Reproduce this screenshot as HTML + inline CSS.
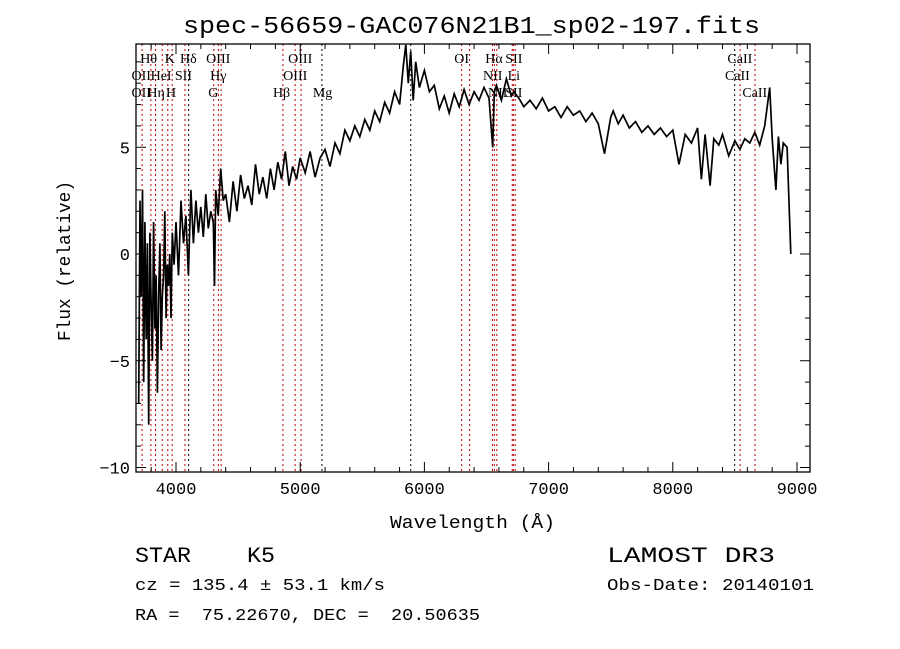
<!DOCTYPE html>
<html><head><meta charset="utf-8"><style>
body{margin:0;background:#fff;width:900px;height:649px;overflow:hidden}
svg{display:block}
text{font-family:"Liberation Serif",serif;fill:#000;white-space:pre}
.m{font-family:"Liberation Mono",monospace}
</style></head><body>
<svg id="c" width="900" height="649"></svg>
<script>
const wave=[3700,3710,3720,3730,3740,3750,3760,3770,3780,3790,3800,3810,3820,3830,3840,3850,3860,3870,3880,3890,3900,3910,3920,3930,3940,3950,3960,3970,3985,4000,4020,4040,4060,4080,4100,4120,4140,4160,4180,4200,4220,4240,4260,4280,4300,4310,4320,4340,4360,4380,4400,4430,4460,4490,4520,4550,4580,4610,4640,4670,4700,4730,4760,4790,4820,4850,4880,4910,4940,4970,5000,5040,5080,5120,5160,5200,5240,5280,5320,5360,5400,5440,5480,5520,5560,5600,5640,5680,5720,5760,5800,5830,5850,5870,5890,5910,5930,5960,6000,6040,6080,6120,6160,6200,6240,6280,6320,6360,6400,6440,6480,6520,6550,6563,6580,6620,6660,6700,6720,6760,6800,6850,6900,6950,7000,7050,7100,7150,7200,7250,7300,7350,7400,7450,7500,7520,7560,7600,7650,7700,7750,7800,7850,7900,7950,8000,8050,8100,8150,8200,8230,8260,8300,8330,8370,8400,8450,8500,8540,8580,8620,8660,8700,8740,8780,8800,8830,8850,8870,8890,8920,8950,8980,9000,9005,9010];
const flux=[-7,2.5,-2,3,-6,1.5,-4,0.5,-8,1,-2.5,-5,1.5,-3.5,-1,-6.5,-2,0.5,-4.5,-2,-1,2,-3,-0.5,-1.5,0,-3,1,-0.5,1.5,-1,2.5,0.5,1.8,-1,3,0.5,2.5,1,2.2,0.8,2.8,1.2,2,1.5,-1.5,3,1.8,4,2.5,2.8,1.5,3.4,2,3.7,2.6,3.2,2.3,4.2,2.8,3.6,2.6,4,3,4.3,3.5,4.8,3.2,4.1,3.5,4.5,3.8,4.8,3.6,4.5,4.9,4.1,5.2,4.7,5.8,5.3,6,5.5,6.3,5.8,6.7,6.2,7.1,6.6,7.6,7,8.8,9.8,8,9.5,7.2,9,7.8,8.6,7.6,7.9,6.8,7.4,6.6,7.5,6.9,7.7,7,7.6,7.2,7.8,7.3,5,7.6,7.9,7.2,8.2,7.4,7.6,7.3,6.9,7.2,6.8,7.3,6.7,6.9,6.4,6.9,6.5,6.7,6.2,6.6,6.1,4.7,6.4,6.7,6.1,6.5,5.9,6.2,5.7,6,5.6,5.9,5.5,5.8,4.2,5.6,5.2,5.9,3.5,5.6,3.2,5.4,5.1,5.6,4.6,5.3,4.9,5.4,5.2,5.7,5.1,6,7.8,5.4,3,5.5,4.2,5.2,5,0];
const lineW=[3727,3798,3835,3889,3934,3969,4072,4102,4304,4341,4363,4861,4959,5007,5175,5890,6300,6364,6548,6563,6583,6707,6716,6731,8498,8542,8662];
const lineBlack=[0,0,0,0,0,0,0,1,0,0,0,0,0,0,1,1,0,0,0,0,0,0,0,0,1,0,0];
const labels=[["Hθ",3780,58],["K",3950,58],["Hδ",4100,58],["OIII",4340,58],["OIII",5000,58],["OI",6300,58],["Hα",6560,58],["SII",6720,58],["CaII",8540,58],
["OII",3720,75],["HeI",3880,75],["SII",4060,75],["Hγ",4340,75],["OIII",4960,75],["NII",6550,75],["Li",6720,75],["CaII",8520,75],
["OII",3720,92],["Hη",3840,92],["H",3960,92],["G",4300,92],["Hβ",4850,92],["Mg",5180,92],["NII",6590,92],["SII",6720,92],["CaII",8660,92]];
const xt=[4000,5000,6000,7000,8000,9000], yt=[5,0,-5,-10];
const L=136,R=810,T=44,B=472;
const X=w=>176+(w-4000)*0.1242, Y=f=>254-f*21.35;
const S=document.getElementById('c'),NS='http://www.w3.org/2000/svg';
function mk(t,a,p){const e=document.createElementNS(NS,t);for(const k in a)e.setAttribute(k,a[k]);(p||S).appendChild(e);return e;}
const lg=mk('g',{});
lineW.forEach((w,i)=>{const l=mk('line',{x1:X(w),x2:X(w),y1:T,y2:B,stroke:lineBlack[i]?'#000':'#c00000','stroke-width':1,'stroke-dasharray':'2,3'},lg);
});
const tg=mk('g',{});
labels.forEach(a=>{const t=mk('text',{x:X(a[1]),y:a[2]+5,'font-size':14,'text-anchor':'middle'},tg);t.textContent=a[0];
});
const pl=mk('polyline',{points:wave.map((w,i)=>X(w).toFixed(1)+','+Y(flux[i]).toFixed(1)).join(' '),fill:'none',stroke:'#000','stroke-width':1.7});

const fr=mk('rect',{x:L,y:T,width:R-L,height:B-T,fill:'none',stroke:'#000','stroke-width':1.3});

for(let w=3800;w<=9100;w+=200){const big=w%1000==0;mk('line',{x1:X(w),x2:X(w),y1:B,y2:B-(big?10:5),stroke:'#000'});mk('line',{x1:X(w),x2:X(w),y1:T,y2:T+(big?10:5),stroke:'#000'});}
for(let f=-10;f<=9.5;f+=1){const big=f%5==0;mk('line',{x1:L,x2:L+(big?10:5),y1:Y(f),y2:Y(f),stroke:'#000'});mk('line',{x1:R,x2:R-(big?10:5),y1:Y(f),y2:Y(f),stroke:'#000'});}
xt.forEach(v=>{const t=mk('text',{x:X(v),y:B+22,'font-size':17,'text-anchor':'middle',class:'m'});t.textContent=v;
});
yt.forEach(v=>{const t=mk('text',{x:L-6,y:Y(v)+6,'font-size':17,'text-anchor':'end',class:'m'});t.textContent=v<0?'−'+(-v):v;
});
function tx(s,x,y,sz,nm,len,rot){const t=mk('text',{x:x,y:y,'font-size':sz,class:'m',textLength:len,lengthAdjust:'spacingAndGlyphs'});if(rot)t.setAttribute('transform',rot);t.textContent=s;}
tx('spec-56659-GAC076N21B1_sp02-197.fits',183,33,24,'chart-title',577);
tx('Wavelength (Å)',390,528,18,'x-axis-title',165);
tx('Flux (relative)',-341,70,18,'y-axis-title',160,'rotate(-90)');
tx('STAR    K5',135,562,22,'class-label',140);
tx('cz = 135.4 ± 53.1 km/s',135,590,17,'redshift-label',250);
tx('RA =  75.22670, DEC =  20.50635',135,620,17,'coords-label',345);
tx('LAMOST DR3',607,562,22,'survey-label',168);
tx('Obs-Date: 20140101',607,590,17,'obs-date-label',207);
</script></body></html>
